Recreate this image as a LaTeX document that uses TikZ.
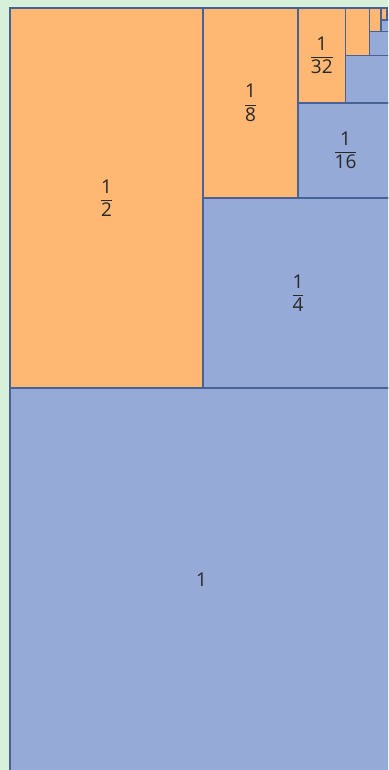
\documentclass[tikz,border=0pt]{standalone}
\usepackage{amsmath}
\usepackage{fontspec}
\setmainfont{Open Sans}

\definecolor{bggreen}{RGB}{214,240,218}
\definecolor{partorange}{RGB}{255,184,116}
\definecolor{partblue}{RGB}{150,170,216}
\definecolor{edgeblue}{RGB}{72,98,150}
\definecolor{labelgray}{RGB}{40,40,40}

\begin{document}
\begin{tikzpicture}[
    x=1pt, y=-1pt,
    font=\fontsize{19}{23}\selectfont,
    part/.style={draw=edgeblue, line width=1.5pt},
    oddpow/.style={part, fill=partorange},
    evenpow/.style={part, fill=partblue},
    fraclabel/.style={text=labelgray, inner sep=0pt},
]

    % Page frame and light green backdrop.
    \useasboundingbox (0,0) rectangle (388,770);
    \fill[bggreen] (0,0) rectangle (388,770);
    \clip (0,0) rectangle (388,770);

    % Outer edges of the unit square and the region above it.
    \def\xL{10}
    \def\xR{393}
    \def\yTop{8}
    \def\yMid{388}
    \def\yBot{771}

    % Each split halves what is left toward the top right corner.
    \def\xA{203}
    \def\xB{298}
    \def\xC{345.5}
    \def\xD{369.25}
    \def\xE{381.1}
    \def\xF{387.05}
    \def\yA{198}
    \def\yB{103}
    \def\yC{55.5}
    \def\yD{31.75}
    \def\yE{19.9}
    \def\yF{13.95}

    % ---------- unit square ----------
    \draw[evenpow] (\xL,\yMid) rectangle (\xR,\yBot);

    % ---------- halving pieces ----------
    \draw[oddpow] (\xL,\yTop) rectangle (\xA,\yMid);
    \draw[evenpow] (\xA,\yA) rectangle (\xR,\yMid);
    \draw[oddpow] (\xA,\yTop) rectangle (\xB,\yA);
    \draw[evenpow] (\xB,\yB) rectangle (\xR,\yA);
    \draw[oddpow] (\xB,\yTop) rectangle (\xC,\yB);
    \draw[evenpow] (\xC,\yC) rectangle (\xR,\yB);
    \draw[oddpow] (\xC,\yTop) rectangle (\xD,\yC);
    \draw[evenpow] (\xD,\yD) rectangle (\xR,\yC);
    \draw[oddpow] (\xD,\yTop) rectangle (\xE,\yD);
    \draw[evenpow] (\xE,\yE) rectangle (\xR,\yD);
    \draw[oddpow] (\xE,\yTop) rectangle (\xF,\yE);
    \draw[evenpow] (\xF,\yF) rectangle (\xR,\yE);

    % ---------- labels ----------
    \node[fraclabel] (one) at ({(\xL+\xR)/2}, {(\yMid+\yBot)/2}) {1};
    \node[fraclabel] (half) at ({(\xL+\xA)/2}, {(\yTop+\yMid)/2}) {$\dfrac{\text{1}}{\text{2}}$};
    \node[fraclabel] (quarter) at ({(\xA+\xR)/2}, {(\yA+\yMid)/2}) {$\dfrac{\text{1}}{\text{4}}$};
    \node[fraclabel] (eighth) at ({(\xA+\xB)/2}, {(\yTop+\yA)/2}) {$\dfrac{\text{1}}{\text{8}}$};
    \node[fraclabel] (sixteenth) at ({(\xB+\xR)/2}, {(\yB+\yA)/2}) {$\dfrac{\text{1}}{\text{16}}$};
    \node[fraclabel] (thirtysecond) at ({(\xB+\xC)/2}, {(\yTop+\yB)/2}) {$\dfrac{\text{1}}{\text{32}}$};

\end{tikzpicture}
\end{document}
